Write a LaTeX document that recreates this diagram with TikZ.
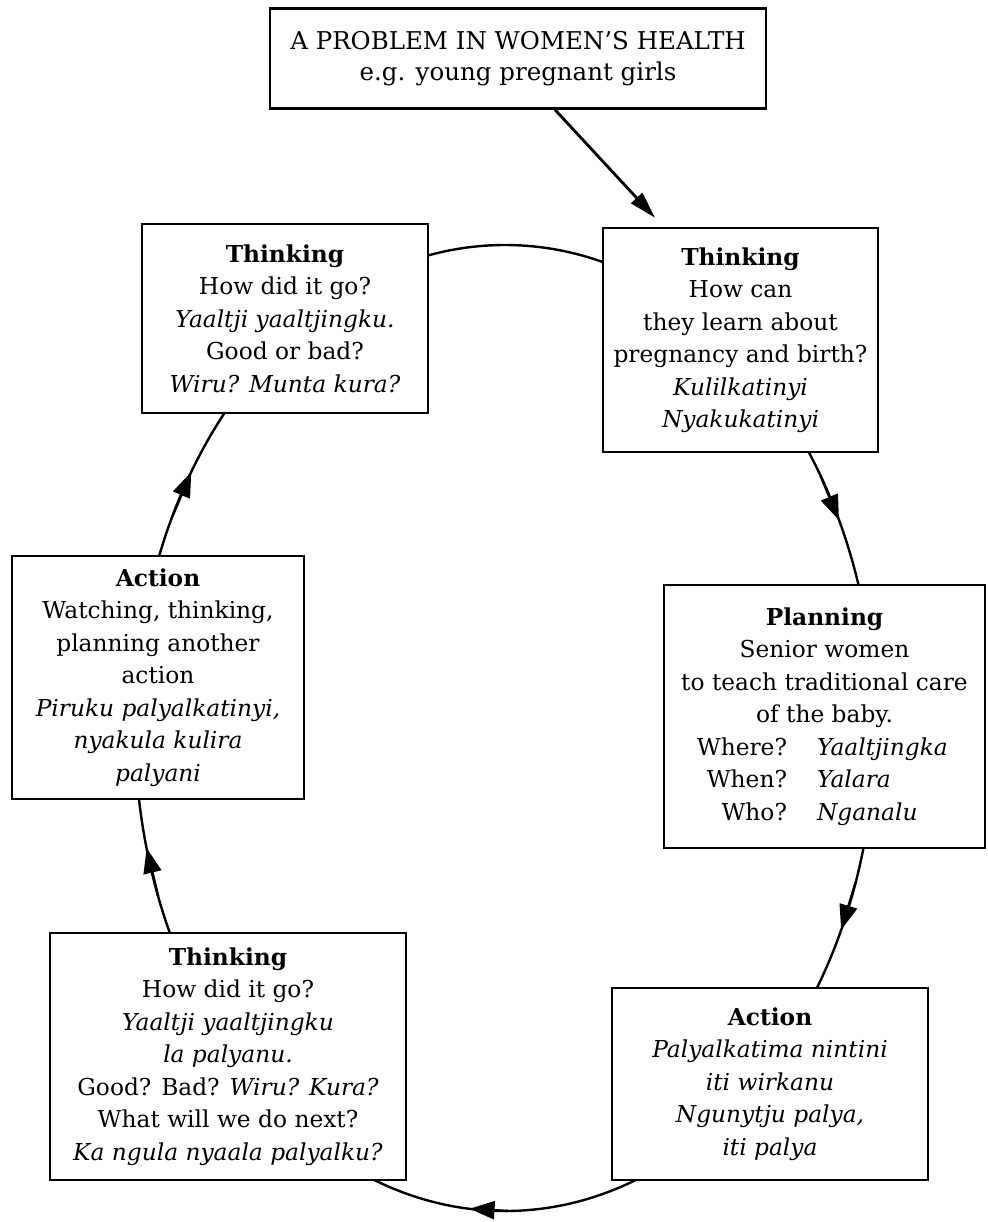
\documentclass[tikz,border=0pt]{standalone}
\usepackage{fontspec}
\setmainfont{DejaVu Serif}
\usetikzlibrary{arrows.meta,calc}
\begin{document}
\begin{tikzpicture}[x=1pt,y=-1pt,
  box/.style={draw, line width=2.5pt, fill=white, inner sep=0pt, align=center,
    font=\fontsize{23.3}{32.5}\selectfont},
  cyc/.style={line width=2.4pt},
  head/.style={-{Triangle[length=25pt,width=18pt]}, line width=2.4pt},
  lead/.style={line width=2.8pt, -{Triangle[length=27pt,width=15pt]}}
]
\useasboundingbox (0,0) rectangle (987,1222);
% cycle (drawn behind the boxes)
\coordinate (cc) at (505,728);
\draw[cyc] (cc) ellipse [x radius=370pt, y radius=483pt];
\foreach \n/\t in {h1/25.5, h2/-24.7, h3/-95.5, h4/-165.6, h5/148}{
  \coordinate (\n) at ({505+370*cos(\t)},{728-483*sin(\t)});
  \coordinate (\n p) at ({505+370*cos(\t+6)},{728-483*sin(\t+6)});
  \draw[head] (\n p) -- (\n);
}
% boxes
\node[box, minimum width=496pt, minimum height=100pt,
      font=\fontsize{24.5}{30.5}\selectfont] (prob) at (518,58.5)
  {A PROBLEM IN WOMEN’S HEALTH\\e.g. young pregnant girls};
\node[box, minimum width=275pt, minimum height=224pt] (t1) at (740.5,340)
  {\textbf{Thinking}\\How can\\they learn about\\pregnancy and birth?\\\textit{Kulilkatinyi}\\\textit{Nyakukatinyi}};
\node[box, minimum width=321pt, minimum height=263pt] (plan) at (824.5,716.5)
  {\textbf{Planning}\\Senior women\\to teach traditional care\\of the baby.\\
   \makebox[95pt][r]{Where?}\hspace{30pt}\makebox[140pt][l]{\textit{Yaaltjingka}}\\
   \makebox[95pt][r]{When?}\hspace{30pt}\makebox[140pt][l]{\textit{Yalara}}\\
   \makebox[95pt][r]{Who?}\hspace{30pt}\makebox[140pt][l]{\textit{Nganalu}}};
\node[box, minimum width=316pt, minimum height=192pt] (a1) at (770,1084)
  {\textbf{Action}\\\textit{Palyalkatima nintini}\\\textit{iti wirkanu}\\\textit{Ngunytju palya,}\\\textit{iti palya}};
\node[box, minimum width=356pt, minimum height=247pt] (t3) at (228,1056.5)
  {\textbf{Thinking}\\How did it go?\\\textit{Yaaltji yaaltjingku}\\\textit{la palyanu.}\\Good? Bad? \textit{Wiru? Kura?}\\What will we do next?\\\textit{Ka ngula nyaala palyalku?}};
\node[box, minimum width=292pt, minimum height=243pt] (a2) at (158,677.5)
  {\textbf{Action}\\Watching, thinking,\\planning another\\action\\\textit{Piruku palyalkatinyi,}\\\textit{nyakula kulira}\\\textit{palyani}};
\node[box, minimum width=286pt, minimum height=189pt] (t4) at (285,318.5)
  {\textbf{Thinking}\\How did it go?\\\textit{Yaaltji yaaltjingku.}\\Good or bad?\\\textit{Wiru? Munta kura?}};
% lead-in arrow
\draw[lead] ([xshift=37pt]prob.south) -- ([xshift=-85.5pt,yshift=9pt]t1.north);
\end{tikzpicture}
\end{document}
